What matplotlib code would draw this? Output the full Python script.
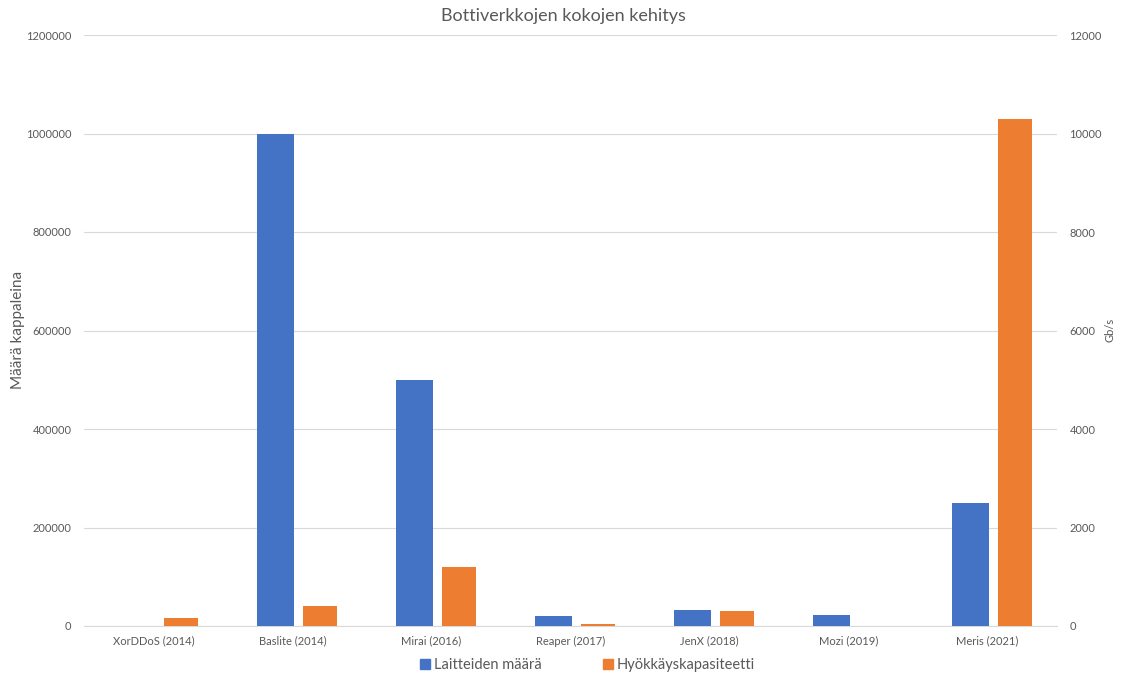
import numpy as np
import matplotlib
matplotlib.use('Agg')
import matplotlib.pyplot as plt
from matplotlib.patches import Patch

plt.rcParams['font.family'] = ['Lato', 'DejaVu Sans']

# data
categories = ['XorDDoS (2014)', 'Baslite (2014)', 'Mirai (2016)', 'Reaper (2017)',
              'JenX (2018)', 'Mozi (2019)', 'Meris (2021)']
devices = [0, 1000000, 500000, 20000, 32500, 22000, 250000]
capacity_gbps = [160, 400, 1200, 40, 300, 0, 10300]

blue = '#4472C4'
orange = '#ED7D31'
grey = '#595959'

fig = plt.figure(figsize=(11.26, 6.79), dpi=100)
ax = fig.add_axes([84/1126, 53/679, 973/1126, 591/679])
ax2 = ax.twinx()

x = np.arange(len(categories))
ax.bar(x - 0.122, devices, width=0.266, color=blue, zorder=3)
ax2.bar(x + 0.198, capacity_gbps, width=0.245, color=orange, zorder=3)

ax.set_xlim(-0.5, len(categories) - 0.5)
ax.set_ylim(0, 1200000)
ax2.set_ylim(0, 12000)
ax.set_yticks(np.arange(0, 1200001, 200000))
ax2.set_yticks(np.arange(0, 12001, 2000))
ax.set_yticklabels([str(v) for v in range(0, 1200001, 200000)])
ax2.set_yticklabels([str(v) for v in range(0, 12001, 2000)])
ax.set_xticks(x)
ax.set_xticklabels(categories)

ax.grid(axis='y', color='#D9D9D9', linewidth=0.8, zorder=0)
ax.set_axisbelow(True)
for a in (ax, ax2):
    for s in a.spines.values():
        s.set_visible(False)
    a.tick_params(length=0, labelsize=8, labelcolor=grey)
ax.spines['bottom'].set_visible(True)
ax.spines['bottom'].set_color('#D9D9D9')
ax.tick_params(axis='y', pad=9)
ax2.tick_params(axis='y', pad=9)
ax.tick_params(axis='x', pad=7)

fig.text(18/1126, 1 - 330/679, 'Määrä kappaleina', rotation=90, ha='center',
         va='center', fontsize=11, color=grey)
fig.text(1110/1126, 1 - 330/679, 'Gb/s', rotation=90, ha='center',
         va='center', fontsize=8, color=grey)
fig.text(0.5, 0.977, 'Bottiverkkojen kokojen kehitys', ha='center', va='center',
         fontsize=13, color=grey)

handles = [Patch(color=blue, label='Laitteiden määrä'),
           Patch(color=orange, label='Hyökkäyskapasiteetti')]
fig.legend(handles=handles, loc='center', bbox_to_anchor=(0.522, 0.02), ncol=2,
           frameon=False, fontsize=10.5, labelcolor=grey, handlelength=0.65,
           handleheight=0.65, handletextpad=0.3, columnspacing=4.2)

fig.savefig('out.png', dpi=100)
